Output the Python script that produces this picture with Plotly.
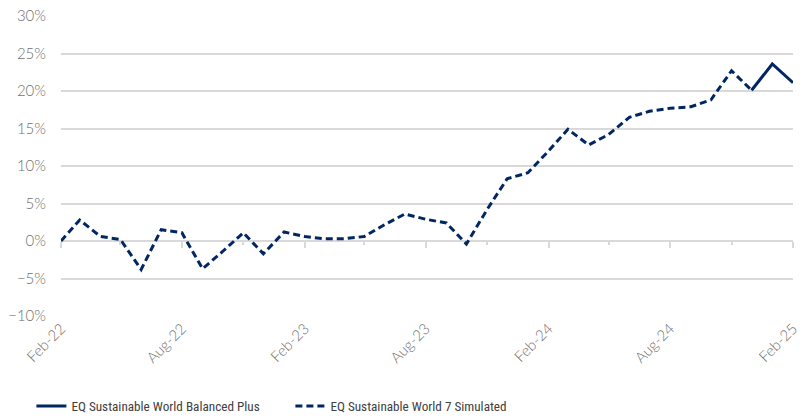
import plotly.graph_objects as go
import pandas as pd

months = [d.strftime("%Y-%m-%d") for d in pd.date_range("2022-02-01", "2025-02-01", freq="MS")]

# EQ Sustainable World 7 Simulated (Feb-22 .. Dec-24), %
simulated = [0.0, 2.8, 0.6, 0.2, -3.8, 1.5, 1.1, -3.7, -1.4, 1.1,
             -1.7, 1.2, 0.6, 0.3, 0.3, 0.6, 2.2, 3.6, 2.9, 2.4,
             -0.4, 4.2, 8.3, 9.1, 12.0, 14.9, 12.8, 14.2, 16.5, 17.3,
             17.7, 17.9, 18.8, 22.7, 20.1]
# EQ Sustainable World Balanced Plus (Dec-24 .. Feb-25), %
balanced = [20.1, 23.6, 21.1]

navy = "#002664"
grid = "#d9d9d9"
tick_font = dict(family="Lato, Open Sans, sans-serif", size=15, color="#6f6f6f", weight=300)
legend_font_family = "Liberation Sans Narrow, Arial Narrow, Roboto Condensed, Liberation Sans, sans-serif"

fig = go.Figure()
fig.add_trace(go.Scatter(
    x=months[-len(balanced):], y=balanced, mode="lines",
    name="EQ Sustainable World Balanced Plus",
    line=dict(color=navy, width=3)))
fig.add_trace(go.Scatter(
    x=months[:len(simulated)], y=simulated, mode="lines",
    name="EQ Sustainable World 7 Simulated",
    line=dict(color=navy, width=3, dash="7px,4px")))
# invisible trace to bring xaxis2 into existence
fig.add_trace(go.Scatter(x=[months[0]], y=[0], xaxis="x2", mode="lines",
                         showlegend=False, hoverinfo="skip", line=dict(width=0)))

fig.update_layout(
    template="none",
    autosize=False,
    width=805, height=419,
    margin=dict(l=61, r=12, t=16, b=103),
    paper_bgcolor="white", plot_bgcolor="white",
    font=dict(family="Lato, sans-serif", size=14, color="#595959"),
    showlegend=True,
    legend=dict(orientation="h", xref="container", yref="container",
                x=0.039, xanchor="left", y=0.03, yanchor="middle",
                font=dict(family=legend_font_family, size=13.2, color="#404040"),
                itemwidth=30, entrywidth=214, bgcolor="rgba(0,0,0,0)"),
    xaxis=dict(
        type="date", range=[months[0], months[-1]], automargin=False,
        tickformat="%b-%y", dtick="M6", tick0=months[0], tickangle=-45,
        showgrid=False, zeroline=False, showline=False, ticks="",
        tickfont=tick_font),
    xaxis2=dict(
        type="date", matches="x", overlaying="x", anchor="free", position=0.25,
        automargin=False,
        dtick="M6", tick0=months[0], ticks="outside", ticklen=6, tickcolor=grid,
        tickwidth=2, showticklabels=False, showgrid=False, zeroline=False,
        showline=False,
        minor=dict(dtick="M3", tick0=months[0], ticks="outside", ticklen=3,
                   tickcolor=grid, tickwidth=2)),
    yaxis=dict(
        range=[-10, 30], dtick=5, ticksuffix="%", automargin=False,
        showgrid=True, gridcolor=grid, gridwidth=1.5,
        zeroline=True, zerolinecolor=grid, zerolinewidth=1.5,
        showline=False, ticks="", ticklabelstandoff=14,
        tickfont=tick_font),
)

fig.write_html("out.html",
               config={"responsive": False, "displayModeBar": False},
               post_script="document.body.style.margin='0px';document.body.style.overflow='hidden';")
